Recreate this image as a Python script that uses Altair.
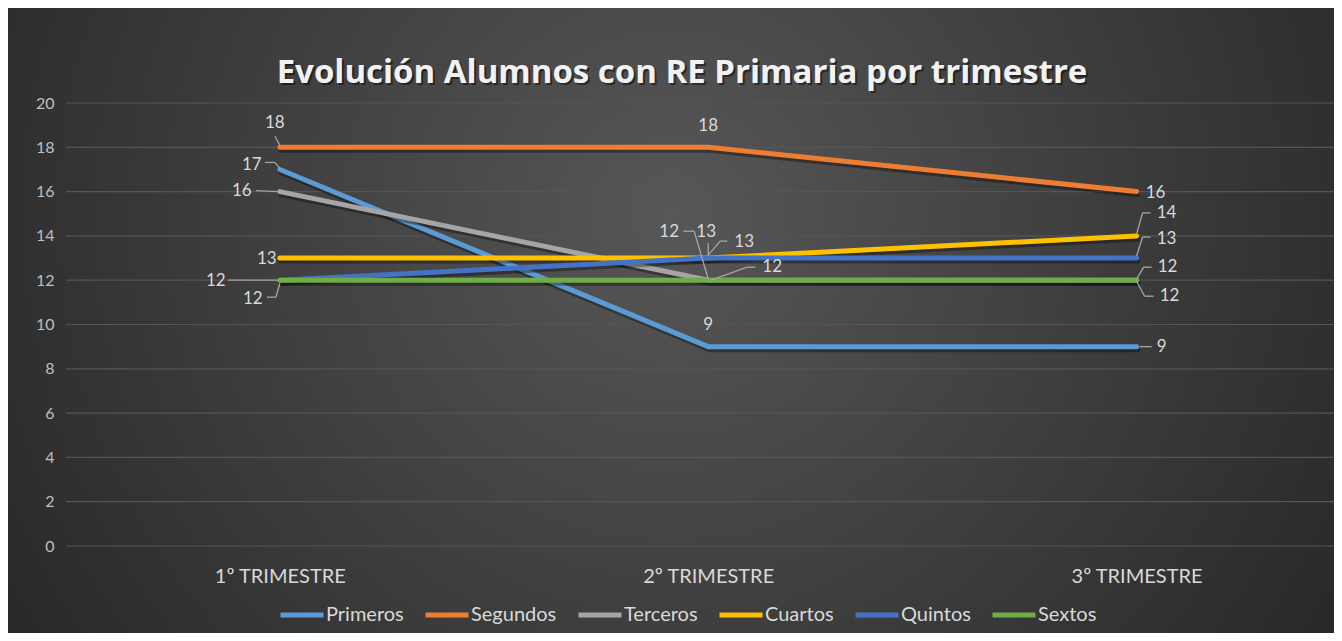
import altair as alt
import pandas as pd

# ---------------- data ----------------
trimestres = ["1º TRIMESTRE", "2º TRIMESTRE", "3º TRIMESTRE"]
series = ["Primeros", "Segundos", "Terceros", "Cuartos", "Quintos", "Sextos"]
primeros = [17, 9, 9]
segundos = [18, 18, 16]
terceros = [16, 12, 12]
cuartos = [13, 13, 14]
quintos = [12, 13, 13]
sextos = [12, 12, 12]
colores = ["#5B9BD5", "#ED7D31", "#A5A5A5", "#FFC000", "#4472C4", "#70AD47"]
y_ticks = [0, 2, 4, 6, 8, 10, 12, 14, 16, 18, 20]
titulo = "Evolución Alumnos con RE Primaria por trimestre"

valores = [primeros, segundos, terceros, cuartos, quintos, sextos]
rows = []
for s, vals in zip(series, valores):
    for t, v in zip(trimestres, vals):
        rows.append({"serie": s, "trimestre": t, "valor": v})
df = pd.DataFrame(rows)
df_ticks = pd.DataFrame({"valor": y_ticks})

# ---------------- label placement (style, pixel offsets) ----------------
# (serie, trimestre index) -> (dx, dy, leader polyline offsets)
etiquetas = {
    ("Segundos", 0): (-5, -24, [(-5, -11), (0, -2)]),
    ("Primeros", 0): (-28, -4, [(-15, -7), (-5, -7), (0, -1)]),
    ("Terceros", 0): (-38, -1, [(-24, -1), (-2, 0)]),
    ("Cuartos", 0): (-13, 1, []),
    ("Quintos", 0): (-64, 1, [(-52, 0), (-2, 0)]),
    ("Sextos", 0): (-27, 19, [(-13, 17), (-4, 17), (0, 3)]),
    ("Segundos", 1): (0, -21, []),
    ("Primeros", 1): (0, -22, []),
    ("Cuartos", 1): (-2, -26, [(0, -15), (0, -2)]),
    ("Quintos", 1): (36, -16, [(19, -17), (12, -17), (0, -3)]),
    ("Sextos", 1): (-39, -48, [(-25, -49), (-14, -49), (0, -1)]),
    ("Terceros", 1): (64, -13, [(47, -13), (39, -13), (3, 0)]),
    ("Segundos", 2): (19, 1, []),
    ("Cuartos", 2): (30, -23, [(14, -23), (6, -23), (0, -2)]),
    ("Quintos", 2): (30, -19, [(14, -21), (6, -21), (0, -2)]),
    ("Terceros", 2): (31, -13, [(15, -13), (7, -13), (0, -1)]),
    ("Sextos", 2): (33, 16, [(17, 16), (8, 16), (0, 1)]),
    ("Primeros", 2): (25, 0, [(15, 0), (3, 0)]),
}

W, H = 1268, 443
PAD = {"left": 58, "top": 95, "right": 0, "bottom": 87}
TEXT = "#d9d9d9"

x_enc = alt.X(
    "trimestre:N",
    sort=trimestres,
    scale=alt.Scale(type="point", padding=0.48, align=0.52),
    axis=alt.Axis(
        title=None, labelAngle=0, domain=False, ticks=False, grid=False,
        labelColor=TEXT, labelFontSize=20, labelPadding=20, zindex=1,
    ),
)
y_enc = alt.Y(
    "valor:Q",
    scale=alt.Scale(domain=[0, 20], nice=False),
    axis=alt.Axis(
        title=None, values=y_ticks, domain=False, ticks=False, grid=False,
        labelColor="#bfbfbf", labelFontSize=16, labelPadding=12, zindex=1,
    ),
)
color_enc = alt.Color(
    "serie:N",
    sort=series,
    scale=alt.Scale(domain=series, range=colores),
    legend=alt.Legend(
        title=None, orient="none", direction="horizontal",
        legendX=212, legendY=488,
        symbolType="stroke", symbolSize=1849, symbolStrokeWidth=5,
        labelFontSize=20, labelColor=TEXT, labelOffset=0, columnPadding=11,
    ),
)

# background radial gradient
fondo = alt.Chart(pd.DataFrame({"k": [0]})).mark_rect(
    color=alt.Gradient(
        gradient="radial",
        stops=[
            alt.GradientStop(color="#575757", offset=0),
            alt.GradientStop(color="#262626", offset=1),
        ],
        x1=0.5, y1=0.42, r1=0.0, x2=0.5, y2=0.42, r2=0.62,
    )
).encode(
    x=alt.value(-PAD["left"]), x2=alt.value(W + PAD["right"]),
    y=alt.value(-PAD["top"]), y2=alt.value(H + PAD["bottom"]),
)

# title as text (with soft shadow)
TX, TY = 682 - 66, 73 - 103
tdf = pd.DataFrame({"k": [0]})
titulo_sombra = alt.Chart(tdf).mark_text(
    text=titulo, font="Open Sans", fontSize=33, fontWeight="bold", color="black",
    opacity=0.45, align="center", baseline="middle",
).encode(x=alt.value(TX + 2), y=alt.value(TY + 2))
titulo_txt = alt.Chart(tdf).mark_text(
    text=titulo, font="Open Sans", fontSize=33, fontWeight="bold", color="#f2f2f2",
    align="center", baseline="middle",
).encode(x=alt.value(TX), y=alt.value(TY))

# gridlines drawn from the tick list
grid = alt.Chart(df_ticks).mark_rule(color="#555555", strokeWidth=1.2).encode(y=y_enc)

base = alt.Chart(df)
layers = [fondo, titulo_sombra, titulo_txt, grid]

for s in series:
    d = base.transform_filter(alt.datum.serie == s)
    layers.append(
        d.mark_line(color="black", opacity=0.35, strokeWidth=5, xOffset=1, yOffset=3,
                    strokeCap="round", strokeJoin="round").encode(x=x_enc, y=y_enc)
    )
    layers.append(
        d.mark_line(strokeWidth=5, strokeCap="round", strokeJoin="round").encode(
            x=x_enc, y=y_enc, color=color_enc
        )
    )

# leader lines and labels
for (s, ti), (dx, dy, pts) in etiquetas.items():
    t = trimestres[ti]
    d = base.transform_filter((alt.datum.serie == s) & (alt.datum.trimestre == t))
    for (ax, ay), (bx, by) in zip(pts[:-1], pts[1:]):
        layers.append(
            d.mark_rule(color="#a6a6a6", strokeWidth=1.3,
                        xOffset=ax, yOffset=ay, x2Offset=bx, y2Offset=by).encode(
                x=x_enc, y=y_enc, x2="trimestre", y2="valor"
            )
        )
    layers.append(
        d.mark_text(dx=dx, dy=dy, fontSize=17, color=TEXT, align="center",
                    baseline="middle").encode(x=x_enc, y=y_enc, text="valor:Q")
    )

chart = (
    alt.layer(*layers)
    .properties(
        width=W, height=H,
        autosize=alt.AutoSizeParams(type="none"),
        padding=PAD,
        background="#262626",
    )
    .configure(font="Lato")
    .configure_view(stroke=None)
)

chart.save("out.html", embed_options={"renderer": "svg", "actions": False})
